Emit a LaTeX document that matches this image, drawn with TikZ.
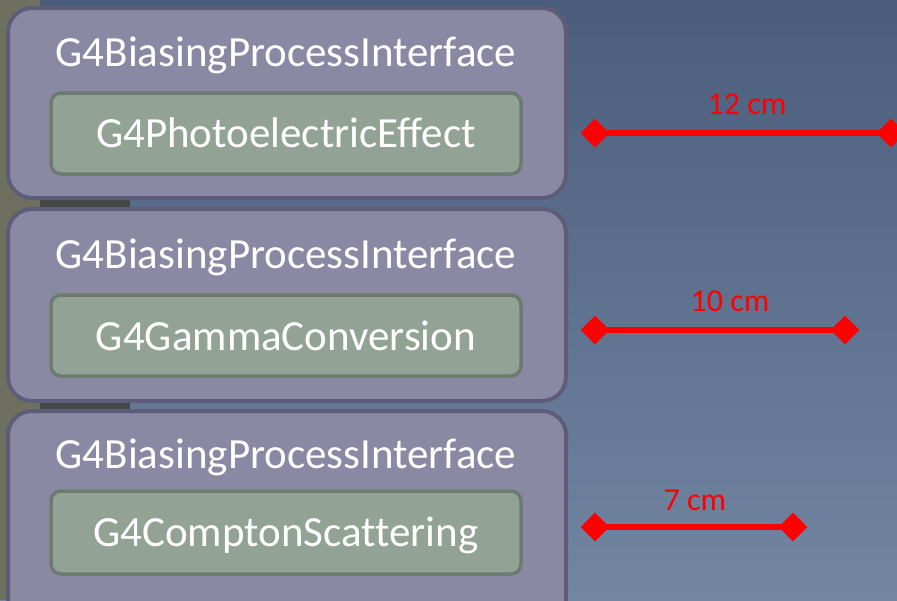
\documentclass[tikz,border=0pt]{standalone}
\usepackage{fontspec}
\setmainfont{Carlito}[Ligatures={NoCommon}]
\usetikzlibrary{shapes.geometric}
\definecolor{bgtop}{HTML}{4B5D7C}
\definecolor{bgbot}{HTML}{7286A2}
\definecolor{outerfill}{HTML}{8A89A3}
\definecolor{outerdraw}{HTML}{5D5D7A}
\definecolor{innerfill}{HTML}{92A396}
\definecolor{innerdraw}{HTML}{6D7A6F}
\definecolor{photo}{HTML}{6F6F60}
\tikzset{
  outerbox/.style={fill=outerfill, draw=outerdraw, line width=4pt, rounded corners=24pt},
  innerbox/.style={fill=innerfill, draw=innerdraw, line width=3.5pt, rounded corners=10pt},
  titletext/.style={anchor=base, text=white, font=\fontsize{43}{48}\selectfont, inner sep=0pt},
  innertext/.style={anchor=base, text=white, font=\fontsize{43}{48}\selectfont, inner sep=0pt},
  endmark/.style={diamond, fill=red, inner sep=0pt, minimum width=29pt, minimum height=29pt},
  redline/.style={draw=red, line width=6pt},
  redlabel/.style={anchor=base, text=red, font=\fontsize{32}{36}\selectfont, inner sep=0pt}
}
\begin{document}
\begin{tikzpicture}[x=1pt, y=-1pt]
\useasboundingbox (0,0) rectangle (897,600);
\shade[top color=bgtop, bottom color=bgbot] (0,0) rectangle (897,600);
\fill[photo] (0,0) rectangle (40,600);
\fill[photo!60!black!80!bgtop] (40,196) rectangle (130,212);
\fill[photo!60!black!80!bgtop] (40,398) rectangle (130,414);
% outer boxes
\draw[outerbox] (8,8) rectangle (566,198);
\draw[outerbox] (8,209) rectangle (566,401);
\draw[outerbox] (8,411) rectangle (566,630);
% inner boxes
\draw[innerbox] (51,93) rectangle (521,174);
\draw[innerbox] (51,295) rectangle (521,376);
\draw[innerbox] (51,491) rectangle (521,574);
% texts
\node[titletext] (t1) at (286,66) {G4BiasingProcessInterface};
\node[titletext] (t2) at (286,268) {G4BiasingProcessInterface};
\node[titletext] (t3) at (286,468) {G4BiasingProcessInterface};
\node[innertext] (i1) at (286,147) {G4PhotoelectricEffect};
\node[innertext] (i2) at (286,350) {G4GammaConversion};
\node[innertext] (i3) at (286,546) {G4ComptonScattering};
% red scale bars
\node[endmark] (a1) at (595,133) {};
\node[endmark] (b1) at (891,133) {};
\node[endmark] (a2) at (595,330) {};
\node[endmark] (b2) at (845,330) {};
\node[endmark] (a3) at (595,527) {};
\node[endmark] (b3) at (793,527) {};
\draw[redline] (a1.center) -- (b1.center);
\draw[redline] (a2.center) -- (b2.center);
\draw[redline] (a3.center) -- (b3.center);
\node[redlabel] (l1) at (747,114) {12 cm};
\node[redlabel] (l2) at (730,311) {10 cm};
\node[redlabel] (l3) at (695,510) {7 cm};
\end{tikzpicture}
\end{document}
